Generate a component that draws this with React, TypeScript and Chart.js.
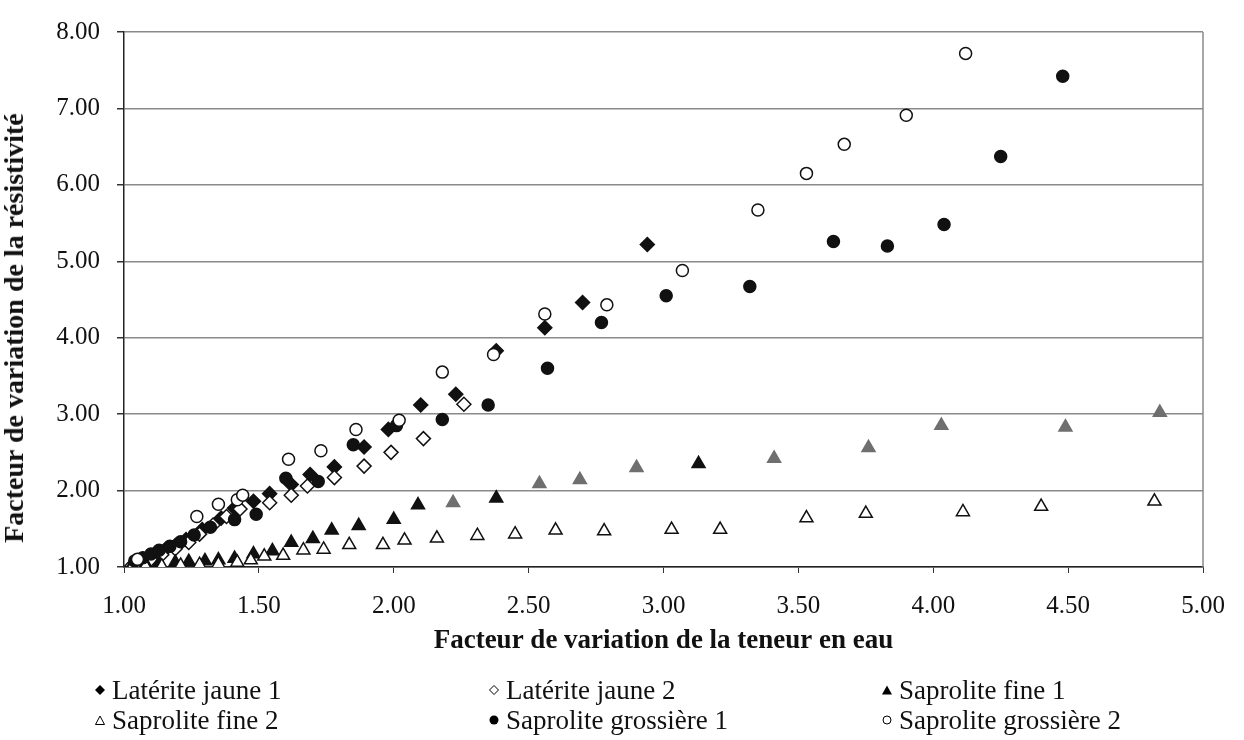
import React, { useEffect, useRef } from "react";
import { Chart, registerables } from "chart.js";

Chart.register(...registerables);

// ---- data ----
const seriesNames = [
  "Latérite jaune 1",
  "Latérite jaune 2",
  "Saprolite fine 1",
  "Saprolite fine 2",
  "Saprolite grossière 1",
  "Saprolite grossière 2",
];

const xTickValues = [1.0, 1.5, 2.0, 2.5, 3.0, 3.5, 4.0, 4.5, 5.0];
const yTickValues = [1, 2, 3, 4, 5, 6, 7, 8];

const xAxisTitle = "Facteur de variation de la teneur en eau";
const yAxisTitle = "Facteur de variation de la résistivité";

const lj1X = [1.04, 1.07, 1.11, 1.15, 1.19, 1.23, 1.29, 1.36, 1.41, 1.48, 1.54, 1.62, 1.69, 1.78, 1.89, 1.98, 2.10, 2.23, 2.38, 2.56, 2.70, 2.94];
const lj1Y = [1.05, 1.10, 1.16, 1.22, 1.28, 1.36, 1.49, 1.64, 1.77, 1.86, 1.96, 2.08, 2.21, 2.31, 2.57, 2.80, 3.12, 3.26, 3.83, 4.13, 4.46, 5.22];

const lj2X = [1.03, 1.06, 1.10, 1.14, 1.19, 1.24, 1.28, 1.33, 1.38, 1.43, 1.54, 1.62, 1.68, 1.78, 1.89, 1.99, 2.11, 2.26];
const lj2Y = [1.02, 1.05, 1.10, 1.16, 1.24, 1.32, 1.43, 1.55, 1.66, 1.76, 1.84, 1.94, 2.06, 2.17, 2.32, 2.50, 2.68, 3.13];

const sf1X = [1.03, 1.08, 1.13, 1.19, 1.24, 1.30, 1.35, 1.41, 1.48, 1.55, 1.62, 1.70, 1.77, 1.87, 2.00, 2.09, 2.22, 2.38, 2.54, 2.69, 2.90, 3.13, 3.41, 3.76, 4.03, 4.49, 4.84];
const sf1Y = [1.02, 1.04, 1.05, 1.06, 1.07, 1.08, 1.09, 1.11, 1.17, 1.21, 1.32, 1.37, 1.48, 1.54, 1.62, 1.81, 1.84, 1.90, 2.09, 2.14, 2.30, 2.35, 2.42, 2.56, 2.85, 2.83, 3.02];

const sf2X = [1.03, 1.08, 1.14, 1.21, 1.28, 1.35, 1.42, 1.47, 1.52, 1.59, 1.665, 1.74, 1.835, 1.96, 2.04, 2.16, 2.31, 2.45, 2.60, 2.78, 3.03, 3.21, 3.53, 3.75, 4.11, 4.40, 4.82];
const sf2Y = [1.00, 1.01, 1.01, 1.02, 1.03, 1.04, 1.06, 1.09, 1.14, 1.15, 1.22, 1.23, 1.29, 1.29, 1.35, 1.375, 1.41, 1.43, 1.48, 1.47, 1.49, 1.49, 1.64, 1.70, 1.72, 1.79, 1.86];

const sg1X = [1.04, 1.07, 1.10, 1.13, 1.17, 1.21, 1.26, 1.32, 1.41, 1.49, 1.60, 1.72, 1.85, 2.01, 2.18, 2.35, 2.57, 2.77, 3.01, 3.32, 3.63, 3.83, 4.04, 4.25, 4.48];
const sg1Y = [1.08, 1.12, 1.17, 1.22, 1.27, 1.33, 1.42, 1.52, 1.62, 1.69, 2.16, 2.12, 2.60, 2.85, 2.93, 3.12, 3.60, 4.20, 4.55, 4.67, 5.26, 5.20, 5.48, 6.37, 7.42];

const sg2X = [1.05, 1.27, 1.35, 1.42, 1.44, 1.61, 1.73, 1.86, 2.02, 2.18, 2.37, 2.56, 2.79, 3.07, 3.35, 3.53, 3.67, 3.90, 4.12];
const sg2Y = [1.10, 1.66, 1.82, 1.88, 1.94, 2.41, 2.52, 2.80, 2.92, 3.55, 3.78, 4.31, 4.43, 4.88, 5.67, 6.15, 6.53, 6.91, 7.72];

// ---- styles ----
const SERIF = "'Liberation Serif', 'Times New Roman', serif";
const BLACK = "#111111";
const GRAYTRI = "#6f6f6f";
// scanned reference shows some "Saprolite fine 1" markers in grey
const sf1Shade = [0, 0, 0, 0, 0, 0, 0, 0, 0, 0, 0, 0, 0, 0, 0, 0, 1, 0, 1, 1, 1, 0, 1, 1, 1, 1, 1];

const pts = (xs: number[], ys: number[]) => xs.map((x, i) => ({ x, y: ys[i] }));

const legendMarkers = ["diamond", "diamondOpen", "tri", "triOpen", "dot", "dotOpen"];

function Marker({ kind }: { kind: string }) {
  const s = 12;
  const c = 6;
  let el: any = null;
  if (kind === "diamond") el = <polygon points="6,1 11,6 6,11 1,6" fill="#000" />;
  if (kind === "diamondOpen") el = <polygon points="6,1.5 10.5,6 6,10.5 1.5,6" fill="#fff" stroke="#000" strokeWidth={1} />;
  if (kind === "tri") el = <polygon points="6,1.5 11,10.5 1,10.5" fill="#000" />;
  if (kind === "triOpen") el = <polygon points="6,2 10.5,10.5 1.5,10.5" fill="#fff" stroke="#000" strokeWidth={1} />;
  if (kind === "dot") el = <circle cx={c} cy={c} r={4.5} fill="#000" />;
  if (kind === "dotOpen") el = <circle cx={c} cy={c} r={4} fill="#fff" stroke="#000" strokeWidth={1} />;
  return (
    <svg width={s} height={s} style={{ display: "block", flex: "none" }}>
      {el}
    </svg>
  );
}

const borderPlugin = {
  id: "rightTopBorder",
  beforeDatasetsDraw(chart: any) {
    const { ctx, chartArea } = chart;
    ctx.save();
    ctx.strokeStyle = "#8a8a8a";
    ctx.lineWidth = 1.5;
    ctx.beginPath();
    ctx.moveTo(chartArea.right, chartArea.top);
    ctx.lineTo(chartArea.right, chartArea.bottom);
    ctx.stroke();
    ctx.restore();
  },
};

export default function App() {
  const ref = useRef<HTMLCanvasElement | null>(null);

  useEffect(() => {
    if (!ref.current) return;
    const common = { showLine: false, pointBorderWidth: 1.5 };
    const chart = new Chart(ref.current, {
      type: "scatter",
      data: {
        datasets: [
          {
            ...common,
            label: seriesNames[5],
            data: pts(sg2X, sg2Y),
            pointStyle: "circle",
            pointRadius: 6,
            backgroundColor: "#ffffff",
            borderColor: BLACK,
          },
          {
            ...common,
            label: seriesNames[4],
            data: pts(sg1X, sg1Y),
            pointStyle: "circle",
            pointRadius: 6,
            backgroundColor: BLACK,
            borderColor: BLACK,
          },
          {
            ...common,
            label: seriesNames[3],
            data: pts(sf2X, sf2Y),
            pointStyle: "triangle",
            pointRadius: 7.5,
            backgroundColor: "#ffffff",
            borderColor: BLACK,
          },
          {
            ...common,
            label: seriesNames[2],
            data: pts(sf1X, sf1Y),
            pointStyle: "triangle",
            pointRadius: 7.5,
            backgroundColor: sf1Shade.map((g) => (g ? GRAYTRI : BLACK)),
            borderColor: sf1Shade.map((g) => (g ? GRAYTRI : BLACK)),
          },
          {
            ...common,
            label: seriesNames[1],
            data: pts(lj2X, lj2Y),
            pointStyle: "rectRot",
            pointRadius: 7,
            backgroundColor: "#ffffff",
            borderColor: BLACK,
          },
          {
            ...common,
            label: seriesNames[0],
            data: pts(lj1X, lj1Y),
            pointStyle: "rectRot",
            pointRadius: 7,
            backgroundColor: BLACK,
            borderColor: BLACK,
          },
        ],
      },
      options: {
        animation: false,
        responsive: false,
        maintainAspectRatio: false,
        layout: { padding: { left: 0, right: 41, top: 20, bottom: 85 } },
        plugins: {
          legend: { display: false },
          tooltip: { enabled: false },
        },
        scales: {
          x: {
            type: "linear",
            min: xTickValues[0],
            max: xTickValues[xTickValues.length - 1],
            afterBuildTicks: (scale: any) => {
              scale.ticks = xTickValues.map((v) => ({ value: v }));
            },
            afterFit: (scale: any) => {
              scale.height = 88;
            },
            grid: {
              drawOnChartArea: false,
              drawTicks: true,
              tickLength: 6,
              tickColor: "#333",
            },
            border: { display: true, color: "#222", width: 1.5 },
            ticks: {
              padding: 18,
              color: "#111",
              font: { family: SERIF, size: 25 },
              callback: (v: any) => Number(v).toFixed(2),
            },
            title: {
              display: true,
              text: xAxisTitle,
              color: "#111",
              padding: 0,
              font: { family: SERIF, size: 27, weight: "bold", lineHeight: 1 },
            },
          },
          y: {
            type: "linear",
            min: yTickValues[0],
            max: yTickValues[yTickValues.length - 1],
            afterBuildTicks: (scale: any) => {
              scale.ticks = yTickValues.map((v) => ({ value: v }));
            },
            afterFit: (scale: any) => {
              scale.width = 124;
            },
            grid: {
              color: "#8a8a8a",
              lineWidth: 1.5,
              drawTicks: true,
              tickLength: 7,
              tickColor: "#333",
            },
            border: { display: true, color: "#222", width: 1.5 },
            ticks: {
              padding: 17,
              color: "#111",
              font: { family: SERIF, size: 25 },
              callback: (v: any) => Number(v).toFixed(2),
            },
            title: { display: false },
          },
        },
      },
      plugins: [borderPlugin],
    });
    return () => chart.destroy();
  }, []);

  const cols = [100, 494, 887];
  const rows = [690, 720];

  return (
    <div style={{ position: "fixed", left: 0, top: 0, width: 1244, height: 740, background: "#fff" }}>
      <canvas ref={ref} width={1244} height={740} style={{ display: "block", width: 1244, height: 740 }} />
      <div
        style={{
          position: "absolute",
          left: 14,
          top: 328,
          transform: "translate(-50%, -50%) rotate(-90deg)",
          fontFamily: SERIF,
          fontWeight: "bold",
          fontSize: 28,
          lineHeight: 1,
          color: "#111",
          whiteSpace: "nowrap",
        }}
      >
        {yAxisTitle}
      </div>
      {seriesNames.map((name, i) => {
        const col = i % 3;
        const row = Math.floor(i / 3);
        return (
          <div
            key={name}
            style={{
              position: "absolute",
              left: cols[col] - 6,
              top: rows[row] - 16,
              height: 32,
              display: "flex",
              alignItems: "center",
              fontFamily: SERIF,
              fontSize: 27,
              color: "#111",
              whiteSpace: "nowrap",
            }}
          >
            <Marker kind={legendMarkers[i]} />
            <span style={{ marginLeft: 6 }}>{name}</span>
          </div>
        );
      })}
    </div>
  );
}
